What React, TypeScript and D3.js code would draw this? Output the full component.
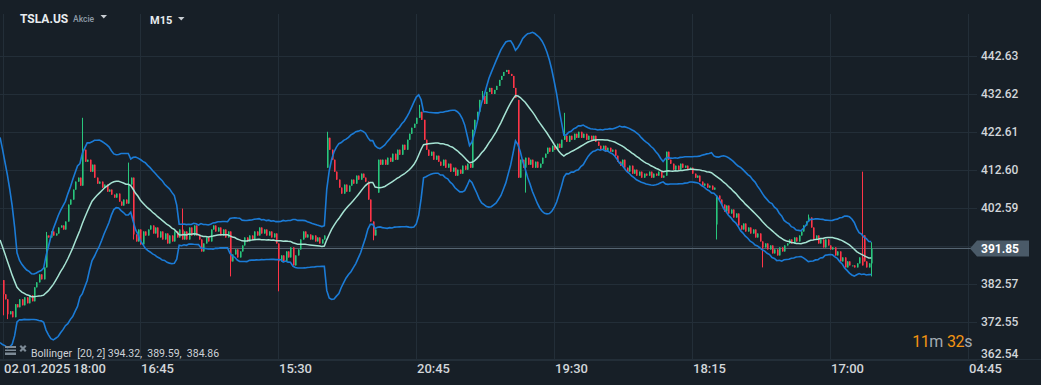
import React from "react";
import * as d3 from "d3";

// ---------- data ----------
const symbol = "TSLA.US";
const assetType = "Akcie";
const timeframe = "M15";

// bars before the visible window (needed for Bollinger start)
const priorCloses = [417, 416, 415, 413, 412, 411, 410, 408, 392, 388, 386, 385, 383, 384, 382, 381, 383, 382, 384, 383, 383.48];

// visible M15 closes
const closes = [
  379.74, 378.42, 374.48, 375.26, 373.69, 377.11, 376.32, 378.42, 376.84, 378.95,
  377.37, 379.48, 377.90, 381.58, 382.90, 385.00, 383.69, 386.84, 395.26, 394.74,
  396.32, 395.26, 395.79, 397.37, 397.90, 396.84, 398.95, 403.42, 404.74, 407.37,
  409.48, 410.53, 408.42, 417.90, 414.74, 415.26, 412.11, 413.95, 410.53, 408.95,
  409.48, 407.90, 408.69, 406.84, 407.37, 406.05, 405.26, 406.32, 404.21, 403.16,
  404.74, 403.69, 408.69, 410.53, 395.53, 393.69, 396.84, 392.90, 396.32, 395.26,
  396.84, 397.90, 395.79, 397.37, 394.74, 396.32, 394.21, 395.79, 393.16, 395.26,
  393.69, 396.32, 394.74, 396.84, 394.21, 396.32, 394.21, 397.37, 395.26, 397.90,
  395.26, 394.21, 391.05, 393.16, 394.74, 393.69, 396.84, 397.90, 396.32, 397.37,
  395.26, 396.84, 394.74, 396.32, 388.42, 390.26, 391.58, 389.47, 391.05, 392.63,
  394.74, 393.69, 395.26, 394.21, 396.32, 395.26, 397.37, 395.79, 396.84, 395.26,
  396.32, 394.74, 395.79, 393.16, 388.42, 390.00, 388.42, 391.05, 389.47, 392.11,
  387.37, 390.00, 391.58, 394.21, 396.32, 394.74, 395.53, 394.21, 395.26, 393.69,
  394.74, 393.16, 394.21, 395.26, 421.05, 417.90, 415.26, 412.11, 410.00, 407.90,
  406.32, 408.69, 406.84, 408.42, 410.00, 408.95, 411.06, 410.00, 411.58, 410.53,
  409.48, 404.74, 398.95, 395.26, 396.84, 415.26, 413.95, 415.26, 413.95, 415.79,
  414.74, 416.84, 415.26, 417.90, 416.58, 419.21, 417.90, 420.53, 422.11, 423.69,
  424.74, 426.32, 427.90, 425.79, 420.53, 417.90, 416.32, 417.37, 415.26, 416.32,
  414.74, 413.69, 415.26, 413.16, 414.21, 412.11, 413.16, 411.06, 412.63, 411.58,
  413.69, 412.63, 414.21, 413.16, 423.16, 425.79, 427.90, 431.05, 432.11, 430.00,
  433.16, 434.21, 432.63, 433.68, 434.74, 436.32, 437.37, 438.42, 438.95, 437.90,
  437.37, 434.21, 431.58, 410.53, 415.26, 413.16, 415.79, 413.95, 415.26, 413.16,
  414.74, 413.16, 414.21, 415.79, 416.84, 418.42, 417.37, 418.95, 417.90, 419.48,
  418.42, 420.53, 421.58, 420.00, 421.58, 420.53, 422.11, 421.05, 422.63, 421.05,
  422.11, 420.53, 421.58, 420.53, 421.58, 420.00, 418.95, 417.90, 418.95, 417.37,
  418.42, 417.37, 417.90, 416.32, 414.74, 413.69, 415.26, 413.16, 412.11, 413.69,
  411.58, 412.63, 411.06, 412.11, 410.53, 411.58, 411.06, 412.11, 410.53, 411.58,
  411.06, 412.11, 410.53, 411.06, 417.37, 415.26, 414.21, 412.63, 413.69, 412.63,
  414.21, 413.16, 413.69, 412.63, 413.16, 411.58, 410.53, 411.06, 409.48, 408.42,
  408.95, 407.90, 408.42, 407.37, 407.90, 405.79, 404.74, 403.42, 401.58, 403.16,
  401.06, 402.11, 400.00, 401.06, 397.90, 396.84, 398.42, 396.32, 397.37, 395.79,
  396.84, 394.74, 395.79, 393.69, 392.11, 393.16, 391.58, 392.63, 390.53, 391.58,
  390.00, 392.11, 391.05, 392.63, 393.16, 394.21, 393.16, 394.74, 393.69, 395.26,
  396.32, 397.90, 398.95, 400.00, 397.37, 394.21, 395.26, 393.16, 394.21, 392.11,
  394.21, 392.63, 391.58, 392.11, 390.00, 391.05, 388.42, 389.47, 386.84, 388.42,
  387.37, 387.37, 386.84, 387.90, 389.47, 387.37, 388.42, 386.84, 387.90, 391.85,
];

// bars that opened away from the previous close: [bar, open]
const gapOpens: [number, number][] = [
  [0, 383.48], [134, 413.16], [155, 406.58], [213, 431.05], [295, 398.16], [356, 395.3],
];
// wick extremes beyond the body: [bar, high]
const wickHighs: [number, number][] = [
  [33, 426.32], [52, 414.5], [74, 402.37], [134, 422.63], [172, 429.74],
  [232, 427.63], [333, 400.79], [355, 412.11], [359, 393.5], [18, 396.2], [198, 433.4],
];
// [bar, low]
const wickLows: [number, number][] = [
  [0, 374.2], [2, 373.2], [94, 384.47], [114, 380.53], [216, 406.58],
  [295, 394.21], [314, 386.84], [359, 384.47], [54, 394.2], [153, 394.0],
];

const priceTicks = [442.63, 432.62, 422.61, 412.6, 402.59, 392.58, 382.57, 372.55, 362.54];
const timeTickBars = [0, 57, 114, 171, 228, 285, 342, 399];
const timeTickLabels = ["02.01.2025", "16:45", "15:30", "20:45", "19:30", "18:15", "17:00", "04:45"];
const firstBarTime = "18:00";
const lastPrice = 391.85;
const bbPeriod = 20;
const bbMult = 2;
const bbLegendValues = ["394.32", "389.59", "384.86"];
const countdown = { min: "11", sec: "32" };

// ---------- styling ----------
const W = 1041;
const H = 385;
const BG = "#171f27";
const GRID = "#232e38";
const TXT = "#d2d6da";
const UP = "#28c67c";
const DOWN = "#ff3548";
const BAND = "#1b7bd6";
const MID = "#a6e3d3";
const FONT = "Roboto, 'Noto Sans', sans-serif";

export default function App() {
  const plotBottom = 359.5;
  const x = d3.scaleLinear().domain([0, 399]).range([2.5, 968]);
  const y = d3.scaleLinear().domain([362.54, 442.63]).range([plotBottom, 56]);

  const all = priorCloses.concat(closes);
  const off = priorCloses.length;
  const gapMap = new Map(gapOpens);
  const hiMap = new Map(wickHighs);
  const loMap = new Map(wickLows);

  const candles = closes.map((c, i) => {
    const o = gapMap.has(i) ? (gapMap.get(i) as number) : all[off + i - 1];
    const hi = Math.max(o, c, hiMap.has(i) ? (hiMap.get(i) as number) : -Infinity);
    const lo = Math.min(o, c, loMap.has(i) ? (loMap.get(i) as number) : Infinity);
    return { i, o, c, hi, lo, up: c >= o };
  });

  const bands: { i: number; up: number; mid: number; lo: number }[] = [];
  for (let i = -1; i < closes.length; i++) {
    const k = off + i;
    const win = all.slice(k - bbPeriod + 1, k + 1);
    const m = d3.mean(win) as number;
    const sd = Math.sqrt(d3.mean(win, (v) => (v - m) * (v - m)) as number);
    bands.push({ i, up: m + bbMult * sd, mid: m, lo: m - bbMult * sd });
  }
  const lineUp = d3.line<any>().x((d) => x(d.i)).y((d) => y(d.up));
  const lineMid = d3.line<any>().x((d) => x(d.i)).y((d) => y(d.mid));
  const lineLo = d3.line<any>().x((d) => x(d.i)).y((d) => y(d.lo));

  const yLast = y(lastPrice);

  return (
    <svg
      width={W}
      height={H}
      style={{ position: "fixed", left: 0, top: 0, background: BG, fontFamily: FONT }}
    >
      <defs>
        <clipPath id="plot">
          <rect x={0} y={0} width={968} height={plotBottom} />
        </clipPath>
      </defs>
      <rect x={0} y={0} width={W} height={H} fill={BG} />

      {/* grid */}
      {priceTicks.map((p) => (
        <line key={p} x1={0} x2={977} y1={Math.round(y(p)) + 0.5} y2={Math.round(y(p)) + 0.5} stroke={GRID} strokeWidth={1} />
      ))}
      {timeTickBars.map((b) => (
        <line key={b} x1={Math.round(x(b)) + 0.5} x2={Math.round(x(b)) + 0.5} y1={14} y2={plotBottom} stroke={GRID} strokeWidth={1} />
      ))}
      <line x1={0} x2={W} y1={plotBottom} y2={plotBottom} stroke={GRID} strokeWidth={1} />

      {/* price line */}
      <line x1={0} x2={972} y1={yLast} y2={yLast} stroke="#5c6b78" strokeWidth={1} />

      <g clipPath="url(#plot)">
        {/* candles */}
        {candles.map((d) => {
          const px = Math.round(x(d.i));
          const col = d.up ? UP : DOWN;
          const top = y(Math.max(d.o, d.c));
          const bot = y(Math.min(d.o, d.c));
          return (
            <g key={d.i}>
              <line x1={px + 0.5} x2={px + 0.5} y1={y(d.hi)} y2={y(d.lo)} stroke={col} strokeWidth={1} />
              <rect x={px} y={top} width={1.6} height={Math.max(1, bot - top)} fill={col} />
            </g>
          );
        })}
        {/* bollinger */}
        <path d={lineUp(bands) || ""} fill="none" stroke={BAND} strokeWidth={1.6} />
        <path d={lineLo(bands) || ""} fill="none" stroke={BAND} strokeWidth={1.6} />
        <path d={lineMid(bands) || ""} fill="none" stroke={MID} strokeWidth={1.5} />
      </g>

      {/* price axis labels (the one under the last-price tag is hidden) */}
      {priceTicks
        .filter((p) => Math.abs(y(p) - yLast) > 10)
        .map((p) => (
          <text
            key={p}
            x={981}
            y={Math.min(y(p), 354)}
            dy="0.36em"
            fontSize={12}
            fontWeight={500}
            fill={TXT}
          >
            {p.toFixed(2)}
          </text>
        ))}

      {/* last price tag */}
      <path
        d={`M970,${yLast} L977,${yLast - 8} L1029,${yLast - 8} L1029,${yLast + 8} L977,${yLast + 8} Z`}
        fill="#4a5a68"
      />
      <text x={981} y={yLast} dy="0.36em" fontSize={12} fontWeight={700} fill="#ffffff">
        {lastPrice.toFixed(2)}
      </text>

      {/* time axis labels */}
      {timeTickBars.map((b, k) => (
        <text key={b} x={Math.round(x(b)) + 1} y={373} fontSize={13} fontWeight={500} fill={TXT}>
          {timeTickLabels[k]}
        </text>
      ))}
      <text x={73} y={373} fontSize={13} fontWeight={500} fill={TXT}>
        {firstBarTime}
      </text>

      {/* header */}
      <text x={20} y={23} fontSize={12} fontWeight={700} fill="#e8ecef">
        {symbol}
      </text>
      <text x={73} y={22} fontSize={8.5} fontWeight={500} fill="#8d9aa6">
        {assetType}
      </text>
      <path d="M100.5,15 L107,15 L103.75,18.5 Z" fill="#c9ced3" />
      <text x={150} y={24} fontSize={11} fontWeight={700} fill="#e8ecef">
        {timeframe}
      </text>
      <path d="M178,17 L184.5,17 L181.25,20.5 Z" fill="#c9ced3" />

      {/* legend */}
      <g fill="#7d8a96">
        <rect x={5} y={346} width={11} height={2} />
        <rect x={5} y={349.5} width={11} height={1.5} />
        <rect x={5} y={352.5} width={11} height={2.5} />
        <path d="M19.5,346.5 L21,345 L23,347 L25,345 L26.5,346.5 L24.5,348.5 L26.5,350.5 L25,352 L23,350 L21,352 L19.5,350.5 L21.5,348.5 Z" />
      </g>
      <text x={31} y={357} fontSize={10.5} fill="#cdd2d7" style={{ whiteSpace: "pre" }}>
        {`Bollinger  [${bbPeriod}, ${bbMult}] ${bbLegendValues.join(",  ")}`}
      </text>

      {/* countdown */}
      <text x={972} y={347} fontSize={16} textAnchor="end" letterSpacing={-0.4} style={{ whiteSpace: "pre" }}>
        <tspan fill="#f29412">{countdown.min}</tspan>
        <tspan fill="#a3abb3">m</tspan>
        <tspan fill="#f29412" dx={4}>{countdown.sec}</tspan>
        <tspan fill="#a3abb3">s</tspan>
      </text>
    </svg>
  );
}
